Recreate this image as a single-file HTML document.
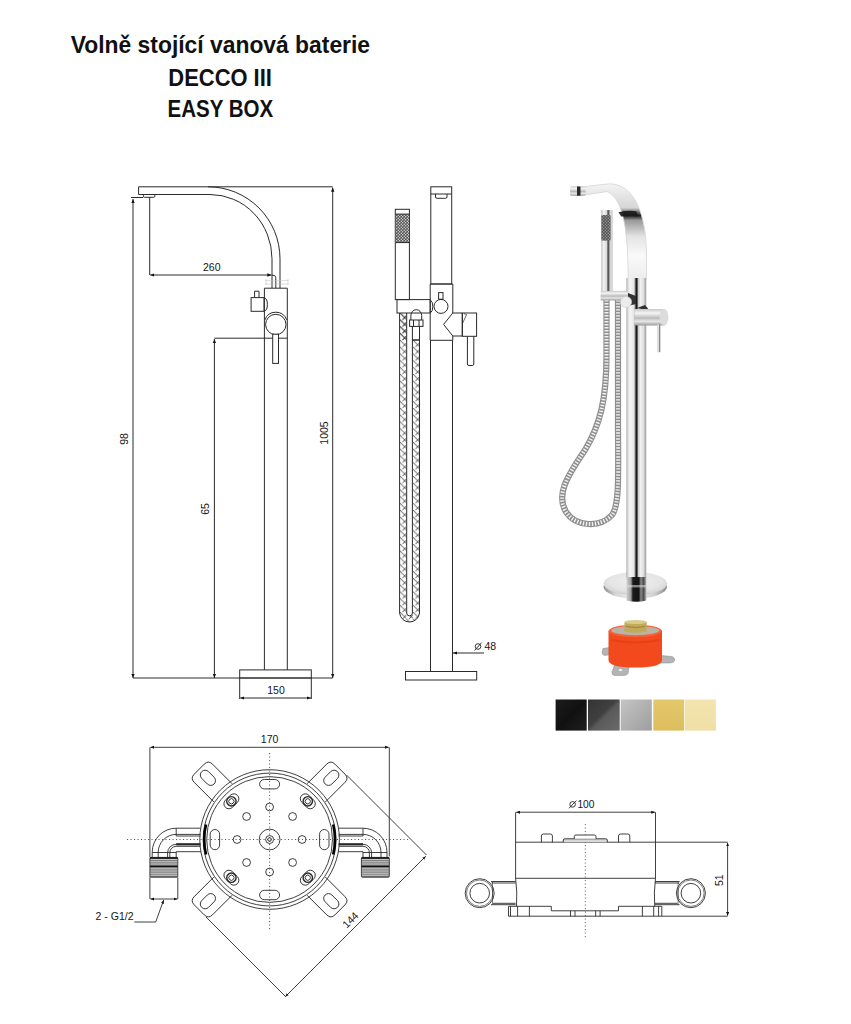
<!DOCTYPE html>
<html><head><meta charset="utf-8">
<style>
html,body{margin:0;padding:0;background:#fff;}
body{width:851px;height:1024px;position:relative;overflow:hidden;font-family:"Liberation Sans",sans-serif;}
.t{position:absolute;left:0;width:440px;text-align:center;font-weight:bold;font-size:24.2px;color:#111;white-space:nowrap;}
.t span{display:inline-block;transform-origin:50% 50%;}
svg{position:absolute;left:0;top:0;}
</style></head><body>
<div class="t" style="top:31px"><span id="t1" style="transform:scaleX(0.945)">Volně stojící vanová baterie</span></div>
<div class="t" style="top:64px"><span id="t2" style="transform:scaleX(0.906)">DECCO III</span></div>
<div class="t" style="top:94.5px"><span id="t3" style="transform:scaleX(0.848)">EASY BOX</span></div>
<svg width="851" height="1024" viewBox="0 0 851 1024">
<defs>
  <marker id="ar" viewBox="0 0 10 10" refX="10" refY="5" markerWidth="4.2" markerHeight="4.2" orient="auto-start-reverse">
    <path d="M0,1 L10,5 L0,9 z" fill="#111"/>
  </marker>
</defs>

<g id="front" fill="none" stroke="#2a2a2a" stroke-width="1">
  <path d="M138.6,186.8 H332.7"/>
  <path d="M208,186.8 A72,72 0 0 1 280,258.8 V288.2"/>
  <path d="M138.6,194.5 H210 A62,64.3 0 0 1 272,258.8 V288.2"/>
  <path d="M138.6,186.8 V194.5"/>
  <rect x="143.3" y="194.5" width="11.6" height="2.8" rx="1.2"/>
  <path d="M131,197.5 H143"/>
  <path d="M133,678 V199" marker-end="url(#ar)" marker-start="url(#ar)"/>
  <path d="M332.7,678 V187.5" marker-end="url(#ar)" marker-start="url(#ar)"/>
  <path d="M149.7,197.3 V275"/>
  <path d="M150.2,275 H271.5" marker-end="url(#ar)" marker-start="url(#ar)"/>
  <path d="M214.4,338.2 H287.3"/>
  <path d="M214.4,678 V339" marker-end="url(#ar)" marker-start="url(#ar)"/>
  <path d="M133,678 H332.7"/>
  <path d="M264.4,288.2 H287.3 M264.4,288.2 V669.9 M287.3,288.2 V669.9"/>
  <path d="M271.9,275 Q275.8,275 275.8,277.5 V288.2"/>
  <path d="M265,280.6 H288.5 M265,284 H288.5 M266,279 V285 M288,279 V285" stroke="#c4c4c4" stroke-width="0.6"/>
  <rect x="251.1" y="297.6" width="12.9" height="13.7"/>
  <path d="M254.6,297.6 V291.2 H259 V297.6"/>
  <path d="M264.4,297.8 A3.6,6.8 0 0 1 264.4,311.2"/>
  <circle cx="275.8" cy="324.5" r="10.2"/>
  <path d="M264.90,319.83 A11.6,11.6 0 0 1 286.70,319.83"/>
  <rect x="272.7" y="334.2" width="5.8" height="29.2" fill="#fff"/>
  <rect x="239.7" y="669.9" width="71.6" height="8.1"/>
  <path d="M239.7,678 V699 M311.3,678 V699"/>
  <path d="M240.2,698 H311" marker-end="url(#ar)" marker-start="url(#ar)"/>
</g>
<g font-family="Liberation Sans, sans-serif" font-size="10.5" fill="#151515" text-anchor="middle">
  <text x="211.8" y="270.8">260</text>
  <text x="276" y="693.7">150</text>
  <text transform="translate(128.2,439) rotate(-90)">98</text>
  <text transform="translate(209.2,509) rotate(-90)">65</text>
  <text transform="translate(328.2,433) rotate(-90)">1005</text>
</g>


<defs>
  <pattern id="hatch" patternUnits="userSpaceOnUse" x="399.8" y="0" width="6.5" height="6.8">
    <path d="M0,0 L6.5,6.2 M0,-6.8 L6.5,-0.6 M0,6.8 L6.5,13 M6.5,3.1 L2.6,7 M6.5,-3.7 L2.6,0.2 M6.5,9.9 L2.6,13.8" fill="none" stroke="#333" stroke-width="0.85"/>
  </pattern>
  <pattern id="dots" patternUnits="userSpaceOnUse" width="3" height="3">
    <rect width="3" height="3" fill="#555"/>
    <circle cx="0.75" cy="0.75" r="0.65" fill="#eee"/>
    <circle cx="2.25" cy="2.25" r="0.65" fill="#eee"/>
  </pattern>
</defs>
<g id="middle" fill="none" stroke="#2a2a2a" stroke-width="1">
  <rect x="430.8" y="186.8" width="20.9" height="97.2"/>
  <path d="M430.8,194 H451.7"/>
  <path d="M435.5,194 V197 Q435.5,198.3 437,198.3 H445.5 Q447,198.3 447,197 V194"/>
  <path d="M452.8,313 V284 H430.2 V340.3 H452.8 V336"/>
  <path d="M430.5,340.3 V671.5 M452.5,340.3 V671.5"/>
  <rect x="405.5" y="671.5" width="71.2" height="8.5"/>
  <rect x="395.3" y="209.3" width="14.1" height="90.3"/>
  <rect x="395.8" y="214.1" width="13.1" height="28.5" fill="url(#dots)" stroke="none"/>
  <path d="M395.3,214.1 H409.4 M395.3,242.6 H409.4"/>
  <rect x="397" y="299.6" width="33.2" height="13.4"/>
  <path d="M430.2,300 A3.5,6.7 0 0 1 430.2,313"/>
  <circle cx="441" cy="306.4" r="7"/>
  <rect x="438.6" y="292.6" width="4.4" height="6.6"/>
  <path d="M452.8,313 L443.6,324.4 L452.8,336 H462.3 V313 Z"/>
  <rect x="462.3" y="313" width="14.3" height="23.3"/>
  <path d="M467.4,336.3 V364 Q467.4,365.5 469,365.5 H472.2 Q473.8,365.5 473.8,364 V336.3"/>
  <path d="M462.5,323.5 L466.6,314.6 L464,313.6" stroke-width="0.7"/>
  <path d="M399.6,313 V613 A10,10 0 0 0 419.5,613 V340"/>
  <path d="M406.7,313 V613 A2.7,2.7 0 0 0 412.4,613 V340"/>
  <path d="M399.6,340 V613 A10,10 0 0 0 419.5,613 V340 H412.4 V613 A2.7,2.7 0 0 1 406.7,613 V313 H399.6 Z" fill="url(#hatch)" stroke="none"/>
  <path d="M400,313 V340 H407 V313 Z" fill="url(#hatch)" stroke="none"/>
  <path d="M412.4,326.4 V340 H419.5 V326.4 M412.4,340 H419.5"/>
  <rect x="409.6" y="320" width="13.4" height="6.4"/>
  <path d="M410.9,320 V315.5 A5.4,5.8 0 0 1 421.7,315.5 V320"/><path d="M413.5,320 V326.4 M419,320 V326.4"/>
    <path d="M484,653 H453" marker-end="url(#ar)"/>
</g>
<g font-family="Liberation Sans, sans-serif" font-size="10.5" fill="#151515">
  
  <text x="484.4" y="650.3">48</text><g fill="none" stroke="#222" stroke-width="0.9"><circle cx="478" cy="646.5" r="2.8"/><path d="M474.6,650.4 L481.6,642.6"/></g>
</g>


<defs>
  <linearGradient id="chromeV" x1="0" x2="1" y1="0" y2="0">
    <stop offset="0" stop-color="#9a9a9a"/>
    <stop offset="0.06" stop-color="#d8d8d8"/>
    <stop offset="0.18" stop-color="#f6f6f6"/>
    <stop offset="0.36" stop-color="#e6e6e6"/>
    <stop offset="0.43" stop-color="#a0a0a0"/>
    <stop offset="0.47" stop-color="#141414"/>
    <stop offset="0.53" stop-color="#1c1c1c"/>
    <stop offset="0.58" stop-color="#c8c8c8"/>
    <stop offset="0.7" stop-color="#f0f0f0"/>
    <stop offset="0.86" stop-color="#dedede"/>
    <stop offset="0.94" stop-color="#a6a6a6"/>
    <stop offset="1" stop-color="#d0d0d0"/>
  </linearGradient>
  <linearGradient id="chromeS" x1="0" x2="1" y1="0" y2="0">
    <stop offset="0" stop-color="#bdbdbd"/>
    <stop offset="0.2" stop-color="#f2f2f2"/>
    <stop offset="0.5" stop-color="#d8d8d8"/>
    <stop offset="0.6" stop-color="#333"/>
    <stop offset="0.72" stop-color="#9a9a9a"/>
    <stop offset="0.85" stop-color="#eaeaea"/>
    <stop offset="1" stop-color="#b5b5b5"/>
  </linearGradient>
  <linearGradient id="chromeH" x1="0" x2="0" y1="0" y2="1">
    <stop offset="0" stop-color="#c8c8c8"/>
    <stop offset="0.25" stop-color="#f5f5f5"/>
    <stop offset="0.55" stop-color="#bbb"/>
    <stop offset="0.75" stop-color="#e8e8e8"/>
    <stop offset="1" stop-color="#999"/>
  </linearGradient>
  <linearGradient id="spoutG" x1="0" x2="0" y1="0" y2="1">
    <stop offset="0" stop-color="#f4f4f4"/>
    <stop offset="0.25" stop-color="#d6d6d6"/>
    <stop offset="0.33" stop-color="#1e1e1e"/>
    <stop offset="0.38" stop-color="#9a9a9a"/>
    <stop offset="0.55" stop-color="#e4e4e4"/>
    <stop offset="0.75" stop-color="#fafafa"/>
    <stop offset="1" stop-color="#ececec"/>
  </linearGradient>
  <pattern id="rib" patternUnits="userSpaceOnUse" width="8" height="3.2">
    <rect width="8" height="3.2" fill="#f0f0f0"/>
    <rect y="0" width="8" height="1.6" fill="#a8a8a8"/>
  </pattern>
  <linearGradient id="rimG" x1="0" x2="1" y1="0" y2="0">
    <stop offset="0" stop-color="#8e8e8e"/>
    <stop offset="0.2" stop-color="#d8d8d8"/>
    <stop offset="0.5" stop-color="#f0f0f0"/>
    <stop offset="0.8" stop-color="#d0d0d0"/>
    <stop offset="1" stop-color="#8a8a8a"/>
  </linearGradient>
  <linearGradient id="collarG" x1="0" x2="1" y1="0" y2="0">
    <stop offset="0" stop-color="#d0d0d0"/>
    <stop offset="0.22" stop-color="#a0a0a0"/>
    <stop offset="0.32" stop-color="#1a1a1a"/>
    <stop offset="0.62" stop-color="#141414"/>
    <stop offset="0.72" stop-color="#8a8a8a"/>
    <stop offset="0.86" stop-color="#4a4a4a"/>
    <stop offset="1" stop-color="#c4c4c4"/>
  </linearGradient>
  <radialGradient id="baseG" cx="0.5" cy="0.4" r="0.6">
    <stop offset="0" stop-color="#f0f0f0"/>
    <stop offset="0.7" stop-color="#e4e4e4"/>
    <stop offset="1" stop-color="#cfcfcf"/>
  </radialGradient>
</defs>
<g id="photo">
  <!-- hoses -->
  <path d="M606.5,300 V355 C606.5,400 600,425 585,450 C566,478 556,495 566,512 C576,527 600,528 612,515 C620,505 618,470 618,420 V300" fill="none" stroke="#8e8e8e" stroke-width="6.2"/>
  <path d="M606.5,300 V355 C606.5,400 600,425 585,450 C566,478 556,495 566,512 C576,527 600,528 612,515 C620,505 618,470 618,420 V300" fill="none" stroke="#f2f2f2" stroke-width="4" stroke-dasharray="1.4 1.6"/>
  <!-- hand shower -->
  <rect x="601.3" y="210" width="11.2" height="81" fill="url(#chromeS)"/>
  <rect x="601.5" y="215" width="9" height="25.5" rx="1.5" fill="#555"/>
  <rect x="601.5" y="215" width="9" height="25.5" fill="url(#dots)" opacity="0.5"/>
  <!-- spout -->
  <path d="M585,186.5 L609.4,183.8 C630,184 645,205 646.4,250 L646.4,280 L628.2,280 C628.2,225 622,198 607,191.5 L585,195 Z" fill="url(#spoutG)" stroke="#d4d4d4" stroke-width="0.8"/>
  <path d="M618.5,212.2 Q628,210.2 636.3,211.2 L638.6,216.6 Q629,215.2 621.2,216.6 Z" fill="#1a1a1a" opacity="0.9"/>
  <rect x="570" y="186.2" width="15.5" height="9.6" rx="1.5" fill="url(#chromeH)"/>
  <rect x="577" y="186.5" width="3.5" height="9.2" fill="#2a2a2a"/>
  <!-- stem -->
  <rect x="626.5" y="278" width="20" height="300" fill="url(#chromeV)"/>
  <!-- holder -->
  <rect x="600.6" y="290.9" width="27" height="9.5" fill="url(#chromeH)"/>
  <path d="M628,293 L636,296 L636,304 L628,306 Z" fill="#333"/>
  <circle cx="626" cy="302" r="5.6" fill="#ececec" stroke="#ccc" stroke-width="0.6"/>
  <!-- lever -->
  <path d="M637,308 L645,305 L650,311 Z" fill="#333"/>
  <rect x="634.4" y="309" width="30" height="16.5" fill="url(#chromeH)"/>
  <ellipse cx="664" cy="317.3" rx="4.4" ry="8.4" fill="#dcdcdc"/>
  <rect x="657.2" y="324.5" width="3.3" height="27.7" fill="url(#chromeS)"/>
  <!-- base -->
  <ellipse cx="635.3" cy="586.8" rx="31.8" ry="11.8" fill="url(#rimG)"/>
  <ellipse cx="635.3" cy="583.6" rx="31.8" ry="11.6" fill="url(#baseG)"/>
  <rect x="626.5" y="572" width="20" height="6" fill="url(#chromeV)"/><path d="M626.5,577 V600.5 Q636.5,603 646.5,600.5 V577 Z" fill="url(#collarG)"/>
  <rect x="626.5" y="585" width="20" height="2.4" fill="#e0e0e0" opacity="0.55"/>
</g>
<g id="easybox">
  <path d="M603,648.5 L612,647 L612,654.5 L604.5,655.5 Q602,655 602,652 Z" fill="#b4b4b4" stroke="#8a8a8a" stroke-width="0.5"/>
  <path d="M656,655 L672,656.5 Q675.5,658 674.5,661 Q673.5,663 670,663 L656,663 Z" fill="#b4b4b4" stroke="#8a8a8a" stroke-width="0.5"/>
  <path d="M615,664 L629.5,664 L628,673.5 Q627,675.5 624,675.5 L614.5,675.5 Q611.5,675 612,672 Z" fill="#b4b4b4" stroke="#8a8a8a" stroke-width="0.5"/>
  <ellipse cx="620.5" cy="670" rx="2.4" ry="1.5" fill="#f2f2f2" stroke="#888" stroke-width="0.4"/>
  <path d="M608.5,631 V660 Q608.5,667.5 635.3,667.5 Q662,667.5 662,660 V631 Z" fill="#f24a1c"/>
  <ellipse cx="635.3" cy="631" rx="26.8" ry="6.2" fill="#f46238"/>
  <ellipse cx="635.3" cy="630.6" rx="24" ry="4.6" fill="#b8b4aa"/>
  <path d="M624.5,622 V631.5 Q635.5,634 646.7,631.5 V622 Z" fill="#c2aa58"/>
  <ellipse cx="635.6" cy="622" rx="11.1" ry="2" fill="#d9c98a"/>
  <path d="M626,626.5 Q635.5,628.5 645.5,626.5" stroke="#8d7a3a" stroke-width="0.8" fill="none"/>
  <path d="M611,640 Q635,645 660,640" stroke="#d83c12" stroke-width="2" fill="none" opacity="0.5"/>
</g>
<defs>
  <linearGradient id="sw1" x1="0" y1="0" x2="1" y2="1"><stop offset="0" stop-color="#1c1c1c"/><stop offset="0.5" stop-color="#111"/><stop offset="1" stop-color="#1e1e1e"/></linearGradient>
  <linearGradient id="sw2" x1="0" y1="0" x2="1" y2="1"><stop offset="0" stop-color="#333"/><stop offset="0.45" stop-color="#404040"/><stop offset="0.55" stop-color="#5a5a5a"/><stop offset="1" stop-color="#6a6a6a"/></linearGradient>
  <linearGradient id="sw3" x1="0" y1="0" x2="1" y2="1"><stop offset="0" stop-color="#c4c4c4"/><stop offset="1" stop-color="#9e9e9e"/></linearGradient>
  <linearGradient id="sw4" x1="0" y1="0" x2="0" y2="1"><stop offset="0" stop-color="#e5c86c"/><stop offset="1" stop-color="#dcbd5e"/></linearGradient>
  <linearGradient id="sw5" x1="0" y1="0" x2="0" y2="1"><stop offset="0" stop-color="#f3e4b0"/><stop offset="1" stop-color="#efdfa6"/></linearGradient>
</defs>
<g id="swatches">
  <rect x="555.6" y="699.5" width="31.1" height="31.1" fill="url(#sw1)"/>
  <rect x="588" y="699.5" width="31.7" height="31.1" fill="url(#sw2)"/>
  <rect x="620.7" y="699.5" width="31.1" height="31.1" fill="url(#sw3)"/>
  <rect x="653.3" y="699.5" width="30.7" height="31.1" fill="url(#sw4)"/>
  <rect x="684.6" y="699.5" width="31.3" height="31.1" fill="url(#sw5)"/>
</g>


<g id="bottomleft" fill="none" stroke="#2a2a2a" stroke-width="0.9">
  <path d="M127,839.5 H410" stroke="#444" stroke-dasharray="1.1 2.4"/>
  <path d="M269.6,753 V931" stroke="#444" stroke-dasharray="1.1 2.4"/>
  <g transform="translate(269.6,839.5) rotate(-45)"><path d="M-12.9,-66 V-93.7 Q-12.9,-99.5 -7.1,-99.5 H7.1 Q12.9,-99.5 12.9,-93.7 V-66"/><rect x="-4.8" y="-96" width="9.6" height="17.5" rx="4.8"/></g><g transform="translate(269.6,839.5) rotate(45)"><path d="M-12.9,-66 V-93.7 Q-12.9,-99.5 -7.1,-99.5 H7.1 Q12.9,-99.5 12.9,-93.7 V-66"/><rect x="-4.8" y="-96" width="9.6" height="17.5" rx="4.8"/></g><g transform="translate(269.6,839.5) rotate(135)"><path d="M-12.9,-66 V-93.7 Q-12.9,-99.5 -7.1,-99.5 H7.1 Q12.9,-99.5 12.9,-93.7 V-66"/><rect x="-4.8" y="-96" width="9.6" height="17.5" rx="4.8"/></g><g transform="translate(269.6,839.5) rotate(225)"><path d="M-12.9,-66 V-93.7 Q-12.9,-99.5 -7.1,-99.5 H7.1 Q12.9,-99.5 12.9,-93.7 V-66"/><rect x="-4.8" y="-96" width="9.6" height="17.5" rx="4.8"/></g>
  <circle cx="269.6" cy="839.5" r="69.8" fill="none"/>
  <circle cx="269.6" cy="839.5" r="66.4"/>
  <circle cx="269.6" cy="839.5" r="62.9"/>
  <path d="M206,824.5 A64.7,64.7 0 0 0 206,854.5" stroke="#000" stroke-width="2.6"/>
  <path d="M333.2,824.5 A64.7,64.7 0 0 1 333.2,854.5" stroke="#000" stroke-width="2.6"/>
  <circle cx="302.1" cy="839.5" r="3.9"/><circle cx="292.6" cy="862.5" r="3.9"/><circle cx="269.6" cy="872.0" r="3.9"/><circle cx="246.6" cy="862.5" r="3.9"/><circle cx="237.1" cy="839.5" r="3.9"/><circle cx="246.6" cy="816.5" r="3.9"/><circle cx="269.6" cy="807.0" r="3.9"/><circle cx="292.6" cy="816.5" r="3.9"/>
  <g transform="translate(307.8,877.7) rotate(135)"><rect x="-8.5" y="-5" width="17" height="10" rx="5"/><circle r="4.6" stroke-width="1.6"/><circle r="2.6"/></g><g transform="translate(231.4,877.7) rotate(225)"><rect x="-8.5" y="-5" width="17" height="10" rx="5"/><circle r="4.6" stroke-width="1.6"/><circle r="2.6"/></g><g transform="translate(231.4,801.3) rotate(315)"><rect x="-8.5" y="-5" width="17" height="10" rx="5"/><circle r="4.6" stroke-width="1.6"/><circle r="2.6"/></g><g transform="translate(307.8,801.3) rotate(405)"><rect x="-8.5" y="-5" width="17" height="10" rx="5"/><circle r="4.6" stroke-width="1.6"/><circle r="2.6"/></g>
  <rect x="259.6" y="779.5" width="20" height="9.4" rx="4.7"/>
<rect x="259.6" y="890.3" width="20" height="9.4" rx="4.7"/>
<rect x="210.2" y="829.5" width="9.4" height="20.2" rx="4.7"/>
<rect x="319.6" y="829.5" width="9.4" height="20.2" rx="4.7"/>
  <circle cx="269.6" cy="839.5" r="10.4"/>
  <circle cx="269.6" cy="839.5" r="4"/>
  <circle cx="269.6" cy="839.5" r="1.8"/>
  <g>
<path d="M200.5,828.2 H176.2 A24,24 0 0 0 152.2,852.2 V857.4"/>
<path d="M200.5,834.4 H176.2 A18,18 0 0 0 158.2,852.4 V857.4"/>
<path d="M200.5,836 H176.2"/>
<path d="M200.5,844.3 H176.2 A8.6,8.6 0 0 0 167.6,852.9 V857.4" />
<path d="M200.5,844.3 H176.2" stroke-width="2.2"/>
<path d="M200.5,846.3 H176.2 A6.4,6.4 0 0 0 169.8,852.7 V857.4"/>
<path d="M201,851.7 H176.2 V857.4"/>
<path d="M176.2,828.2 V836"/>
<path d="M152.2,852.5 H176.2"/>
<rect x="149.9" y="857.4" width="27.9" height="19.8" rx="1" fill="#7a7a7a" stroke="#333"/>
<path d="M150.5,859.6 H177.3 M150.5,861.8 H177.3 M150.5,864 H177.3 M150.5,868.8 H177.3 M150.5,871 H177.3 M150.5,873.2 H177.3 M150.5,875.2 H177.3" stroke="#e6e6e6" stroke-width="0.8"/>
<path d="M150,858 H177.7 M150,866.4 H177.7" stroke="#111" stroke-width="1.3"/>
</g>
  <g transform="translate(539.2,0) scale(-1,1)">
<path d="M200.5,828.2 H176.2 A24,24 0 0 0 152.2,852.2 V857.4"/>
<path d="M200.5,834.4 H176.2 A18,18 0 0 0 158.2,852.4 V857.4"/>
<path d="M200.5,836 H176.2"/>
<path d="M200.5,844.3 H176.2 A8.6,8.6 0 0 0 167.6,852.9 V857.4" />
<path d="M200.5,844.3 H176.2" stroke-width="2.2"/>
<path d="M200.5,846.3 H176.2 A6.4,6.4 0 0 0 169.8,852.7 V857.4"/>
<path d="M201,851.7 H176.2 V857.4"/>
<path d="M176.2,828.2 V836"/>
<path d="M152.2,852.5 H176.2"/>
<rect x="149.9" y="857.4" width="27.9" height="19.8" rx="1" fill="#7a7a7a" stroke="#333"/>
<path d="M150.5,859.6 H177.3 M150.5,861.8 H177.3 M150.5,864 H177.3 M150.5,868.8 H177.3 M150.5,871 H177.3 M150.5,873.2 H177.3 M150.5,875.2 H177.3" stroke="#e6e6e6" stroke-width="0.8"/>
<path d="M150,858 H177.7 M150,866.4 H177.7" stroke="#111" stroke-width="1.3"/>
</g>
  <path d="M149.9,877.2 V899 M177.8,877.2 V899"/>
  <path d="M150.4,899 H177.4" marker-end="url(#ar)" marker-start="url(#ar)"/>
  <path d="M134.3,922 H155.7 L163.7,900" marker-end="url(#ar)"/>
  <path d="M149.9,747.3 V857.4 M389.3,747.3 V856.4"/>
  <path d="M150.4,747.3 H388.8" marker-end="url(#ar)" marker-start="url(#ar)"/>
  <path d="M346.7,775.2 L426.5,855"/>
  <path d="M206,917 L285.5,996.5"/>
  <path d="M285.3,996.7 L425.7,856.3" marker-end="url(#ar)" marker-start="url(#ar)"/>
</g>
<g font-family="Liberation Sans, sans-serif" font-size="10.5" fill="#151515">
  <text x="269.6" y="742.8" text-anchor="middle">170</text>
  <text x="95.6" y="919.5">2 - G1/2</text>
  <text transform="translate(350.4,919.9) rotate(-45)" text-anchor="middle" dy="3.7">144</text>
</g>


<g id="bottomright" fill="none" stroke="#2a2a2a" stroke-width="0.9">
  <path d="M585.3,824 V939" stroke="#555" stroke-dasharray="1.1 2.4"/>
  <path d="M515.6,812.2 V878.3 M655.5,812.2 V878.3"/>
  <path d="M516.2,812.2 H655" marker-end="url(#ar)" marker-start="url(#ar)"/>
  <path d="M515.6,842.2 H727.6 M515.6,878.3 H655.5"/>
  <path d="M515.6,878.3 Q517.5,892 516.5,906.3 M655.5,878.3 Q653.7,892 654.7,906.3"/>
  <path d="M508.5,906.3 H551.3 V910.8 H618.5 V906.3 H661.8 V916.2 H508.5 Z"/>
  <path d="M661.8,916.2 H727.6"/>
  <path d="M517.6,906.3 V916.2 M529.4,906.3 V916.2 M570.5,910.8 V916.2 M575,910.8 V916.2 M595.7,910.8 V916.2 M600.1,910.8 V916.2 M642.4,906.3 V916.2 M653.7,906.3 V916.2 M658.6,906.3 V916.2 M510.5,906.3 V916.2"/>
  <path d="M727.6,842.7 V915.7" marker-end="url(#ar)" marker-start="url(#ar)"/>
  
<circle cx="479.7" cy="893.2" r="14.5"/>
<circle cx="479.7" cy="893.2" r="13.2" stroke-width="0.6"/>
<circle cx="479.7" cy="893.2" r="9.8"/>
<path d="M491,881.5 H515.6 M491.5,883 H515.6 M491,904.7 H515.6 M493,903.3 H515.6" />
<path d="M492.5,882 V904.5" stroke-width="0.6"/>

  <g transform="translate(1170.6,0) scale(-1,1)">
<circle cx="479.7" cy="893.2" r="14.5"/>
<circle cx="479.7" cy="893.2" r="13.2" stroke-width="0.6"/>
<circle cx="479.7" cy="893.2" r="9.8"/>
<path d="M491,881.5 H515.6 M491.5,883 H515.6 M491,904.7 H515.6 M493,903.3 H515.6" />
<path d="M492.5,882 V904.5" stroke-width="0.6"/>
</g>
  <path d="M541.4,842.2 V836 Q541.4,834 543.4,834 H550.4 Q552.4,834 552.4,836 V842.2"/>
  <path d="M618.5,842.2 V836 Q618.5,834 620.5,834 H627.8 Q629.8,834 629.8,836 V842.2"/>
  <path d="M563.3,842.2 V840 Q563.3,838.8 565,838.8 H605.6 Q607.3,838.8 607.3,840 V842.2" fill="#d8d8d8"/>
  <path d="M574.3,838.8 V836.5 Q574.3,835 576,835 H594.3 Q596,835 596,836.5 V838.8" fill="#fff"/>
</g>
<g font-family="Liberation Sans, sans-serif" font-size="10.5" fill="#151515">
  <text x="577.4" y="807.6" font-size="11" transform="translate(577.4,0) scale(0.93,1) translate(-577.4,0)">100</text><g fill="none" stroke="#222" stroke-width="0.9"><circle cx="572.6" cy="804.4" r="2.8"/><path d="M569,808.3 L576.4,800.6"/></g>
  <text transform="translate(719.1,880.2) rotate(-90)" text-anchor="middle" dy="3.8">51</text>
</g>

</svg>
</body></html>
